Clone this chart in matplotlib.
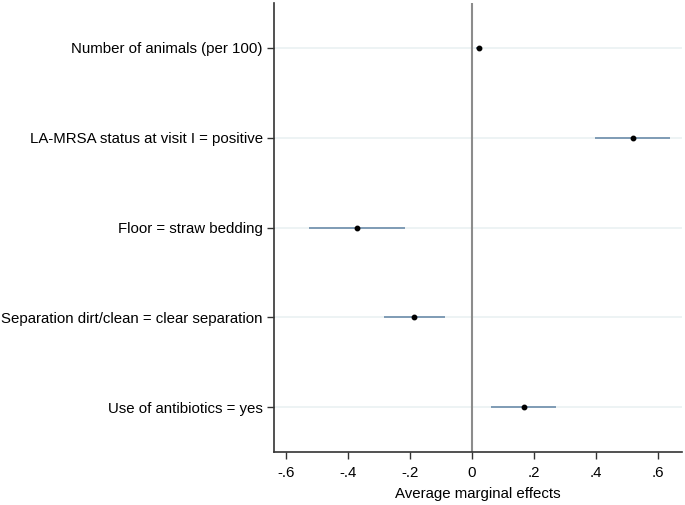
import numpy as np
import matplotlib.pyplot as plt

plt.rcParams['font.family'] = ['Liberation Sans', 'DejaVu Sans']

labels = ['Number of animals (per 100)',
          'LA-MRSA status at visit I = positive',
          'Floor = straw bedding',
          'Separation dirt/clean = clear separation',
          'Use of antibiotics = yes']
effect = [0.022, 0.518, -0.372, -0.187, 0.166]
ci_low = [0.012, 0.398, -0.527, -0.284, 0.061]
ci_high = [0.032, 0.639, -0.215, -0.089, 0.271]

ticks = [-0.6, -0.4, -0.2, 0, 0.2, 0.4, 0.6]
tick_labels = ['-.6', '-.4', '-.2', '0', '.2', '.4', '.6']

fig = plt.figure(figsize=(6.85, 5.05), dpi=100)
ax = fig.add_axes([0.4, 0.105, 0.5956, 0.889])

ypos = np.arange(1, len(labels) + 1)

for y in ypos:
    ax.axhline(y, color='#eaf1f2', lw=1.2, zorder=0)
ax.axvline(0, color='#8c8c8c', lw=1.5, zorder=1)

ax.hlines(ypos, ci_low, ci_high, color='#7f9bb5', lw=1.4, zorder=2)
ax.plot(effect, ypos, 'o', color='black', ms=3.2, zorder=3)

ax.set_xlim(-0.639, 0.677)
ax.set_ylim(5.5, 0.5)
ax.set_yticks(ypos)
ax.set_yticklabels(labels, fontsize=10.8)
ax.set_xticks(ticks)
ax.set_xticklabels(tick_labels, fontsize=10.8)
ax.set_xlabel('Average marginal effects', fontsize=10.8, labelpad=5)

ax.spines['top'].set_visible(False)
ax.spines['right'].set_visible(False)
ax.spines['left'].set_color('#333333')
ax.spines['bottom'].set_color('#333333')
ax.spines['left'].set_linewidth(1.2)
ax.spines['bottom'].set_linewidth(1.2)
ax.tick_params(axis='y', length=5, width=1, color='#333333', pad=3)
ax.tick_params(axis='x', length=5, width=1, color='#333333', pad=5)

fig.savefig('out.png', dpi=100)
